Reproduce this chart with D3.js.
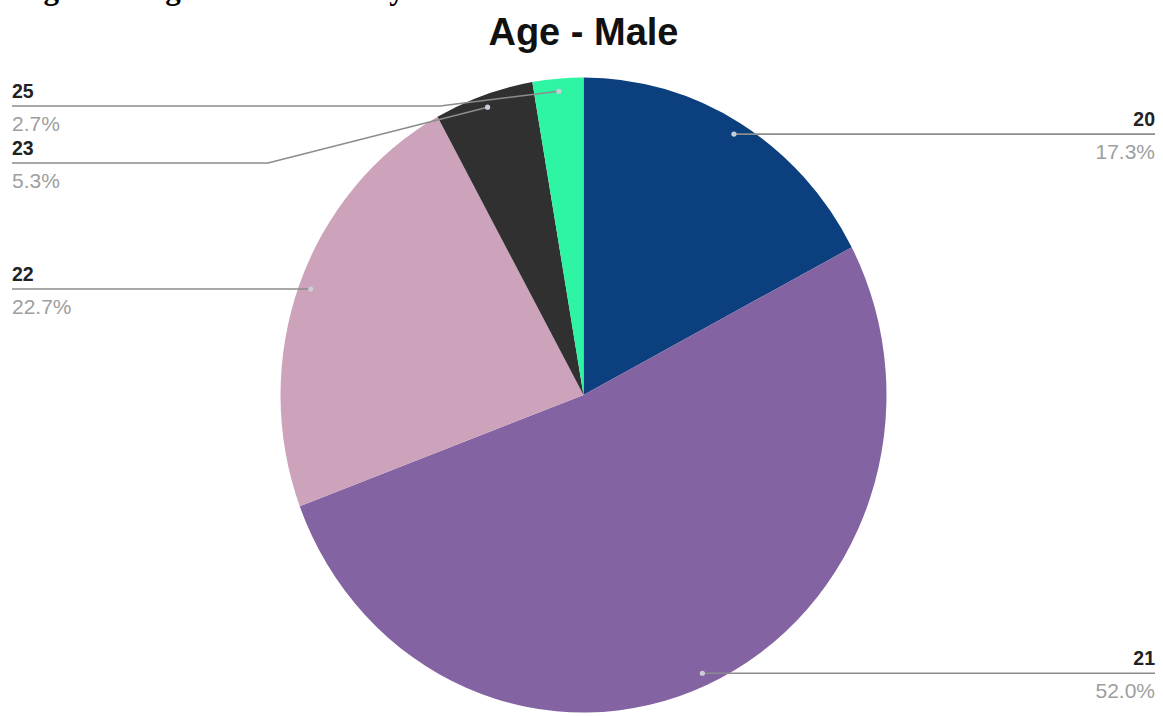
<!DOCTYPE html>
<html>
<head>
<meta charset="utf-8">
<script src="https://cdn.jsdelivr.net/npm/d3@7"></script>
<style>
  html, body { margin: 0; padding: 0; background: #fff; }
  svg { display: block; }
</style>
</head>
<body>
<svg id="chart" width="1163" height="716"></svg>
<script>
// Data
const ages = ['20', '21', '22', '23', '25'];
const shares = [17.3, 52.0, 22.7, 5.3, 2.7];
const colors = ['#0b3f7d', '#8363a2', '#cda3bb', '#303031', '#2df5a3'];

const WIDTH = 1163;
const HEIGHT = 716;
const CX = 583.5;
const CY = 395;
const RADIUS = 303;
const YSTRETCH = 1.048; // the source picture is a little taller than wide

const svg = d3.select('#chart');

// Figure caption, cropped off at the top edge in the source
svg.append('text')
  .attr('x', 16)
  .attr('y', -1.5)
  .attr('font-family', '"Liberation Serif", "Times New Roman", serif')
  .attr('font-weight', 'bold')
  .attr('font-size', 31)
  .attr('fill', '#000')
  .text('Figure 3: Age Distribution by Gender');

// Title
svg.append('text')
  .attr('x', CX)
  .attr('y', 45)
  .attr('text-anchor', 'middle')
  .attr('font-family', '"Liberation Sans", Arial, sans-serif')
  .attr('font-weight', 'bold')
  .attr('font-size', 38)
  .attr('fill', '#111')
  .text('Age - Male');

const rows = ages.map((age, i) => ({ age, share: shares[i], color: colors[i] }));

const pie = d3.pie()
  .value(d => d.share)
  .sort(null);
const arcs = pie(rows);

const arc = d3.arc().innerRadius(0).outerRadius(RADIUS);
const dotArc = d3.arc().innerRadius(RADIUS * 0.96).outerRadius(RADIUS * 0.96);

const pieGroup = svg.append('g')
  .attr('transform', `translate(${CX},${CY}) scale(1,${YSTRETCH})`);

pieGroup.selectAll('path')
  .data(arcs)
  .join('path')
  .attr('d', arc)
  .attr('fill', d => d.data.color);

// Leader line layout: which side, and where the label line sits
const leftX = 12;
const rightX = 1155;
const stacked = { '25': { y: 106, elbow: 440 }, '23': { y: 163, elbow: 268 } };

const labels = arcs.map(a => {
  const [dx, dy] = dotArc.centroid(a);
  const px = CX + dx;
  const py = CY + dy * YSTRETCH;
  const right = px > CX;
  const s = stacked[a.data.age];
  const ly = s ? s.y : py;
  const points = right
    ? [[px, py], [rightX, ly]]
    : s
      ? [[leftX, ly], [s.elbow, ly], [px, py]]
      : [[leftX, ly], [px, py]];
  return { a, px, py, right, ly, points };
});

const line = d3.line();

svg.append('g')
  .attr('fill', 'none')
  .attr('stroke', '#8c8c8c')
  .attr('stroke-width', 1.6)
  .selectAll('path')
  .data(labels)
  .join('path')
  .attr('d', d => line(d.points));

svg.append('g')
  .selectAll('circle')
  .data(labels)
  .join('circle')
  .attr('cx', d => d.px)
  .attr('cy', d => d.py)
  .attr('r', 2.6)
  .attr('fill', '#c9cdd6');

const textGroup = svg.append('g')
  .attr('font-family', '"Liberation Sans", Arial, sans-serif');

textGroup.selectAll('text.age')
  .data(labels)
  .join('text')
  .attr('class', 'age')
  .attr('x', d => d.right ? rightX : leftX)
  .attr('y', d => d.ly - 8)
  .attr('text-anchor', d => d.right ? 'end' : 'start')
  .attr('font-size', 19.5)
  .attr('font-weight', 'bold')
  .attr('fill', '#222')
  .text(d => d.a.data.age);

textGroup.selectAll('text.pct')
  .data(labels)
  .join('text')
  .attr('class', 'pct')
  .attr('x', d => d.right ? rightX : leftX)
  .attr('y', d => d.ly + 25)
  .attr('text-anchor', d => d.right ? 'end' : 'start')
  .attr('font-size', 21)
  .attr('fill', '#9e9e9e')
  .text(d => d3.format('.1f')(d.a.data.share) + '%');
</script>
</body>
</html>
